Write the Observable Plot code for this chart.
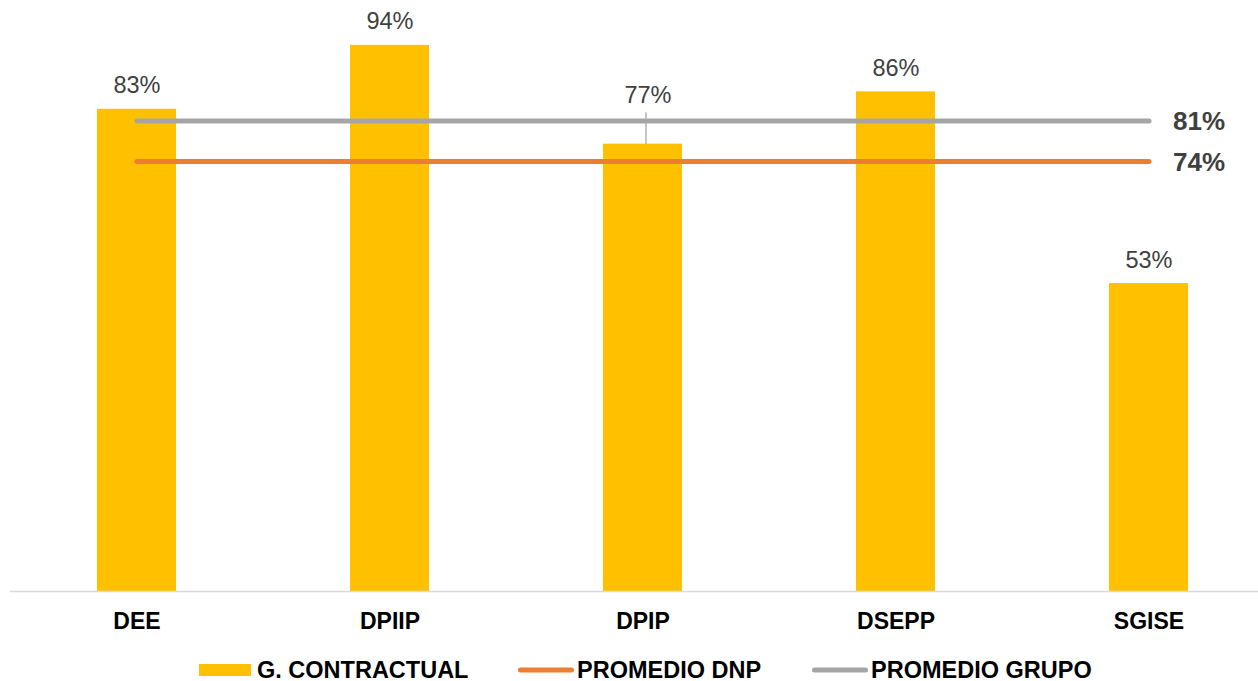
<!DOCTYPE html>
<html>
<head>
<meta charset="utf-8">
<script src="https://cdn.jsdelivr.net/npm/d3@7"></script>
<script src="https://cdn.jsdelivr.net/npm/@observablehq/plot@0.6"></script>
<style>
  html, body { margin: 0; padding: 0; background: #fff; }
  body { font-family: "Liberation Sans", Arial, sans-serif; width: 1258px; overflow: hidden; }
  #chart svg { display: block; }
  #legend { position: relative; height: 41px; }
  #legend .item { position: absolute; top: 18px; height: 24px; display: flex; align-items: center;
                  font-size: 23.5px; font-weight: bold; color: #000; line-height: 24px; white-space: nowrap; }
  #legend svg { display: block; }
</style>
</head>
<body>
<div id="chart"></div>
<div id="legend"></div>
<script>
// Categories and values
const units = ["DEE", "DPIIP", "DPIP", "DSEPP", "SGISE"];
const contractual = [0.83, 0.94, 0.77, 0.86, 0.53];
const averageNames = ["PROMEDIO GRUPO", "PROMEDIO DNP"];
const averageValues = [0.81, 0.74];
const seriesNames = ["G. CONTRACTUAL", "PROMEDIO DNP", "PROMEDIO GRUPO"];

// Styling
const barColor = "#FFC000";
const lineColors = {"PROMEDIO DNP": "#ED7D31", "PROMEDIO GRUPO": "#A5A5A5"};
const fontStack = '"Liberation Sans", Arial, sans-serif';
const chartW = 1258, chartH = 640, padTop = 10, padBottom = 49;
const pxPerUnit = chartH - padBottom - padTop;
const pct = d3.format(".0%");

const rows = units.map((unit, i) => ({unit, value: contractual[i]}));
const averages = averageNames.map((name, i) => ({name, value: averageValues[i]}));

// A value label that would sit on an average line is lifted and tied to its bar with a leader
const labelGap = 16, labelHeight = 24, liftedGap = 41;
const collides = d => averages.some(a =>
  a.value > d.value + labelGap / pxPerUnit && a.value < d.value + (labelGap + labelHeight) / pxPerUnit);
const normalLabels = rows.filter(d => !collides(d));
const liftedLabels = rows.filter(collides);

const chart = Plot.plot({
  width: chartW,
  height: chartH,
  marginTop: padTop,
  marginBottom: padBottom,
  marginLeft: 10,
  marginRight: 0,
  style: {fontFamily: fontStack, background: "#fff", color: "#000", overflow: "visible"},
  x: {type: "band", domain: units, range: [10, 1275], paddingInner: 0.688, paddingOuter: 0.344, label: null},
  y: {domain: [0, 1], axis: null},
  marks: [
    Plot.barY(rows, {x: "unit", y: "value", fill: barColor}),
    Plot.ruleY([0], {stroke: "#D9D9D9", strokeWidth: 1.5}),
    Plot.axisX({tickSize: 0, tickPadding: 21, fontSize: 23, fontWeight: "bold", fill: "#000", label: null}),
    Plot.link(averages, {
      x1: () => units[0], x2: () => units[units.length - 1],
      y1: "value", y2: "value",
      stroke: d => lineColors[d.name], strokeWidth: 5, strokeLinecap: "round"
    }),
    Plot.text(averages, {
      x: () => units[units.length - 1], y: "value", text: d => pct(d.value),
      textAnchor: "start", dx: 24, dy: 1, fontSize: 26, fontWeight: "bold", fill: "#404040"
    }),
    Plot.text(normalLabels, {
      x: "unit", y: "value", text: d => pct(d.value),
      lineAnchor: "bottom", dy: -labelGap, fontSize: 23.5, fill: "#404040"
    }),
    Plot.link(liftedLabels, {
      x1: "unit", x2: "unit", y1: "value", y2: d => d.value + (liftedGap - 9) / pxPerUnit,
      stroke: "#A6A6A6", strokeWidth: 1.3, dx: 3
    }),
    Plot.text(liftedLabels, {
      x: "unit", y: "value", text: d => pct(d.value),
      lineAnchor: "bottom", dy: -liftedGap, dx: 5, fontSize: 23.5, fill: "#404040"
    })
  ]
});
document.getElementById("chart").append(chart);

// Legend below the chart
const legend = d3.select("#legend");
const itemLefts = [199, 518, 812];
seriesNames.forEach((name, i) => {
  const item = legend.append("div").attr("class", "item").style("left", itemLefts[i] + "px");
  if (i === 0) {
    item.append("div").style("width", "52px").style("height", "12px")
      .style("background", barColor).style("margin-right", "6px");
  } else {
    const s = item.append("svg").attr("width", 56).attr("height", 10).style("margin-right", "3px");
    s.append("line").attr("x1", 2.5).attr("x2", 53.5).attr("y1", 5).attr("y2", 5)
      .attr("stroke", lineColors[name]).attr("stroke-width", 5).attr("stroke-linecap", "round");
  }
  item.append("span").text(name);
});
</script>
</body>
</html>
